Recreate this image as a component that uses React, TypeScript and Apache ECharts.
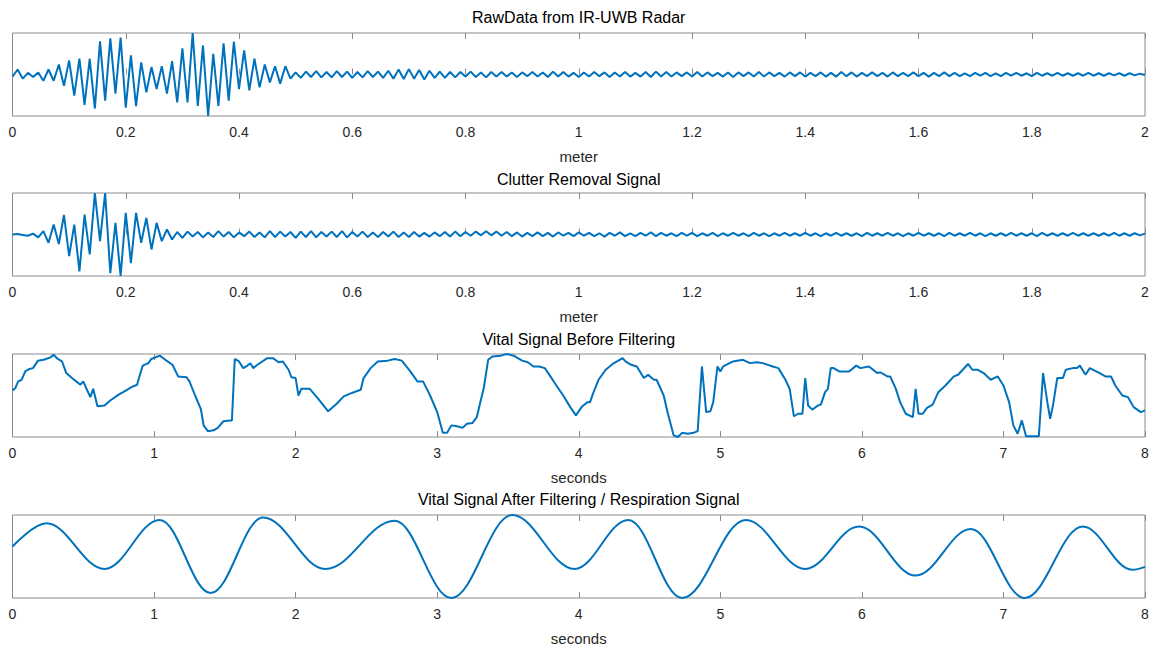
import React, { useEffect, useRef } from "react";
import * as echarts from "echarts";

// ---- Data ----
const RANGE_STEP = 2 / 220; // metres between radar samples

const rawData: number[] = [
  -0.05, 0.12, -0.1, 0.04, -0.06, 0.05, -0.15, 0.12, -0.15, 0.24,
  -0.27, 0.34, -0.51, 0.38, -0.73, 0.38, -0.82, 0.8, -0.63, 0.87,
  -0.46, 0.89, -0.8, 0.46, -0.76, 0.29, -0.43, 0.18, -0.35, 0.2,
  -0.46, 0.32, -0.67, 0.63, -0.67, 1.0, -0.76, 0.7, -1.0, 0.5,
  -0.76, 0.75, -0.63, 0.79, -0.35, 0.58, -0.38, 0.38, -0.31, 0.24,
  -0.19, 0.2, -0.22, 0.2, -0.1, 0.05, -0.08,
  0.07, -0.06, 0.08, -0.07, 0.06, -0.07, 0.08, -0.06, 0.07, -0.08,
  0.06, -0.07, 0.08, -0.06, 0.07, -0.08, 0.09, -0.1, 0.12, -0.11,
  0.13, -0.1, 0.11, -0.12, 0.09, -0.08, 0.07, -0.08, 0.06, -0.07,
  0.06, -0.05, 0.07, -0.06, 0.05, -0.07, 0.06, -0.05, 0.06, -0.05,
  0.05, -0.06, 0.05, -0.04, 0.06, -0.05, 0.05, -0.06, 0.07, -0.05,
  0.06, -0.05, 0.04, -0.06, 0.05, -0.05, 0.06, -0.04, 0.05, -0.06,
  0.05, -0.05, 0.06, -0.05, 0.04, -0.05, 0.06, -0.06, 0.07, -0.05,
  0.06, -0.05, 0.05, -0.04, 0.05, -0.05, 0.06, -0.05, 0.05, -0.04,
  0.04, -0.05, 0.05, -0.06, 0.05, -0.04, 0.05, -0.05, 0.06, -0.05,
  0.05, -0.04, 0.04, -0.05, 0.05, -0.04, 0.05, -0.05, 0.04, -0.04,
  0.05, -0.05, 0.04, -0.05, 0.06, -0.04, 0.05, -0.05, 0.04, -0.04,
  0.05, -0.04, 0.04, -0.05, 0.05, -0.04, 0.04, -0.04, 0.05, -0.04,
  0.04, -0.05, 0.04, -0.04, 0.05, -0.04, 0.04, -0.04, 0.03, -0.04,
  0.04, -0.03, 0.04, -0.04, 0.03, -0.04, 0.04, -0.03, 0.04, -0.03,
  0.03, -0.04, 0.04, -0.03, 0.03, -0.03, 0.04, -0.03, 0.03, -0.03,
  0.03, -0.03, 0.04, -0.03, 0.03, -0.03, 0.03, -0.02, 0.03, -0.03,
  0.03, -0.02, 0.02, -0.01,
];

const clutterRemoved: number[] = [
  0, 0.01, -0.01, -0.03, 0.02, -0.07, 0.08, -0.2, 0.24, -0.23,
  0.47, -0.52, 0.24, -0.89, 0.48, -0.48, 1.0, -0.16, 1.0, -0.93,
  0.28, -1.0, 0.52, -0.69, 0.52, -0.2, 0.4, -0.36, 0.28, -0.16,
  0.12, -0.12,
  0.06, -0.08, 0.07, -0.05, 0.06, -0.07, 0.05, -0.06, 0.08, -0.05,
  0.06, -0.07, 0.05, -0.04, 0.07, -0.06, 0.05, -0.07, 0.08, -0.06,
  0.07, -0.05, 0.06, -0.08, 0.07, -0.06, 0.08, -0.07, 0.06, -0.05,
  0.07, -0.06, 0.08, -0.07, 0.06, -0.05, 0.07, -0.06, 0.05, -0.06,
  0.06, -0.05, 0.07, -0.06, 0.05, -0.06, 0.06, -0.05, 0.04, -0.05,
  0.05, -0.04, 0.06, -0.05, 0.07, -0.04, 0.06, -0.03, 0.07, -0.02,
  0.08, -0.02, 0.07, -0.03, 0.06, -0.04, 0.05, -0.05, 0.04, -0.04,
  0.05, -0.04, 0.04, -0.05, 0.05, -0.03, 0.04, -0.04, 0.05, -0.03,
  0.04, -0.04, 0.03, -0.05, 0.04, -0.03, 0.05, -0.04, 0.03, -0.04,
  0.04, -0.03, 0.05, -0.04, 0.04, -0.03, 0.03, -0.04, 0.04, -0.03,
  0.04, -0.04, 0.03, -0.03, 0.04, -0.04, 0.03, -0.03, 0.04, -0.03,
  0.03, -0.04, 0.04, -0.03, 0.03, -0.04, 0.03, -0.03, 0.04, -0.03,
  0.03, -0.03, 0.04, -0.03, 0.03, -0.04, 0.03, -0.03, 0.04, -0.03,
  0.03, -0.03, 0.03, -0.04, 0.04, -0.03, 0.03, -0.03, 0.04, -0.03,
  0.03, -0.04, 0.03, -0.03, 0.04, -0.03, 0.03, -0.03, 0.03, -0.04,
  0.04, -0.03, 0.03, -0.03, 0.04, -0.03, 0.03, -0.04, 0.03, -0.03,
  0.03, -0.03, 0.04, -0.03, 0.03, -0.03, 0.03, -0.04, 0.04, -0.03,
  0.03, -0.03, 0.03, -0.03, 0.04, -0.03, 0.03, -0.03, 0.03, -0.03,
  0.03, -0.03, 0.04, -0.03, 0.03, -0.03, 0.03, -0.02, 0.02,
];

// [seconds, amplitude]
const vitalBefore: [number, number][] = [
  [0, 0.56], [0.02, 0.59], [0.04, 0.67], [0.065, 0.69], [0.09, 0.79], [0.12, 0.82], [0.145, 0.83],
  [0.18, 0.92], [0.22, 0.93], [0.27, 0.96], [0.29, 0.99], [0.32, 0.94], [0.35, 0.91], [0.38, 0.77],
  [0.42, 0.71], [0.45, 0.67], [0.48, 0.63], [0.5, 0.67], [0.52, 0.59], [0.55, 0.48], [0.57, 0.58],
  [0.6, 0.37], [0.65, 0.38], [0.69, 0.44], [0.75, 0.51], [0.8, 0.56], [0.84, 0.6], [0.88, 0.63],
  [0.9, 0.75], [0.92, 0.86], [0.96, 0.89], [0.98, 0.94], [1.04, 0.98], [1.08, 0.93], [1.13, 0.87],
  [1.17, 0.73], [1.23, 0.72], [1.25, 0.67], [1.29, 0.5], [1.33, 0.34], [1.35, 0.14], [1.38, 0.07],
  [1.42, 0.08], [1.45, 0.11], [1.49, 0.19], [1.54, 0.2], [1.55, 0.2], [1.57, 0.94], [1.6, 0.91],
  [1.63, 0.83], [1.66, 0.86], [1.68, 0.89], [1.7, 0.83], [1.73, 0.87], [1.8, 0.95], [1.84, 0.95],
  [1.88, 0.9], [1.91, 0.91], [1.95, 0.81], [1.97, 0.72], [2.0, 0.71], [2.02, 0.5], [2.04, 0.58],
  [2.07, 0.58], [2.1, 0.58], [2.16, 0.46], [2.23, 0.31], [2.29, 0.4], [2.34, 0.49], [2.38, 0.52],
  [2.46, 0.57], [2.48, 0.71], [2.53, 0.83], [2.58, 0.91], [2.65, 0.92], [2.7, 0.94], [2.75, 0.92],
  [2.81, 0.79], [2.86, 0.67], [2.9, 0.67], [2.95, 0.5], [3.0, 0.3], [3.04, 0.05], [3.07, 0.05],
  [3.1, 0.14], [3.14, 0.13], [3.18, 0.11], [3.21, 0.16], [3.25, 0.17], [3.28, 0.24], [3.33, 0.6],
  [3.36, 0.93], [3.39, 0.97], [3.45, 0.98], [3.49, 1.0], [3.54, 0.98], [3.6, 0.92], [3.64, 0.9],
  [3.68, 0.85], [3.72, 0.85], [3.76, 0.83], [3.8, 0.73], [3.83, 0.65], [3.89, 0.5], [3.94, 0.36],
  [3.98, 0.26], [4.02, 0.36], [4.06, 0.42], [4.08, 0.42], [4.1, 0.52], [4.14, 0.69], [4.19, 0.81],
  [4.24, 0.88], [4.31, 0.95], [4.33, 0.91], [4.37, 0.87], [4.41, 0.85], [4.46, 0.71], [4.49, 0.75],
  [4.53, 0.69], [4.55, 0.69], [4.6, 0.5], [4.63, 0.28], [4.67, 0.02], [4.7, 0], [4.73, 0.05],
  [4.77, 0.04], [4.81, 0.05], [4.84, 0.07], [4.87, 0.85], [4.9, 0.3], [4.93, 0.31], [4.95, 0.42],
  [4.98, 0.85], [5.0, 0.79], [5.02, 0.85], [5.09, 0.91], [5.16, 0.93], [5.21, 0.89], [5.26, 0.9],
  [5.3, 0.89], [5.37, 0.85], [5.41, 0.83], [5.46, 0.69], [5.49, 0.58], [5.52, 0.25], [5.55, 0.28],
  [5.58, 0.28], [5.6, 0.71], [5.62, 0.38], [5.65, 0.33], [5.69, 0.38], [5.71, 0.39], [5.74, 0.54],
  [5.76, 0.58], [5.78, 0.83], [5.8, 0.83], [5.84, 0.79], [5.91, 0.79], [5.96, 0.86], [5.99, 0.83],
  [6.05, 0.85], [6.11, 0.77], [6.13, 0.78], [6.18, 0.73], [6.2, 0.73], [6.24, 0.58], [6.27, 0.42],
  [6.31, 0.28], [6.36, 0.24], [6.38, 0.58], [6.4, 0.28], [6.43, 0.28], [6.46, 0.35], [6.5, 0.39],
  [6.54, 0.54], [6.59, 0.62], [6.65, 0.73], [6.68, 0.75], [6.75, 0.88], [6.78, 0.81], [6.82, 0.81],
  [6.86, 0.77], [6.91, 0.69], [6.96, 0.73], [7.0, 0.62], [7.04, 0.42], [7.07, 0.14], [7.1, 0.04],
  [7.13, 0.2], [7.16, 0.01], [7.25, 0.01], [7.28, 0.77], [7.31, 0.42], [7.33, 0.22], [7.35, 0.38],
  [7.38, 0.71], [7.42, 0.71], [7.44, 0.81], [7.49, 0.83], [7.52, 0.83], [7.54, 0.86], [7.58, 0.75],
  [7.61, 0.83], [7.68, 0.77], [7.72, 0.73], [7.76, 0.73], [7.79, 0.62], [7.84, 0.5], [7.88, 0.48],
  [7.92, 0.36], [7.97, 0.3], [8.0, 0.32],
];

// [seconds, amplitude] — peaks and troughs of the respiration curve
const respiration: [number, number][] = [
  [0, 0.62], [0.24, 0.9], [0.65, 0.35], [1.04, 0.94], [1.4, 0.06], [1.77, 0.97], [2.21, 0.35],
  [2.7, 0.93], [3.1, 0.0], [3.53, 1.0], [3.97, 0.35], [4.35, 0.94], [4.73, 0.0], [5.18, 0.94],
  [5.6, 0.35], [5.98, 0.86], [6.38, 0.27], [6.77, 0.83], [7.15, 0.0], [7.56, 0.86], [7.91, 0.34],
  [8.0, 0.375],
];

const titles = [
  "RawData from IR-UWB Radar",
  "Clutter Removal Signal",
  "Vital Signal Before Filtering",
  "Vital Signal After Filtering / Respiration Signal",
];
const axisNames = ["meter", "meter", "seconds", "seconds"];

// ---- Layout / style ----
const LEFT = 12.5;
const RIGHT = 17;
const GRID_TOPS = [33, 193, 354, 515];
const GRID_H = 83;
const TITLE_TOPS = [9, 171, 331, 491];
const FONT = "'Liberation Sans', Arial, Helvetica, sans-serif";
const LINE_COLOR = "#0072BD";
const BOX_COLOR = "#8a8a8a";
const TEXT_COLOR = "#262626";

export default function App() {
  const ref = useRef<HTMLDivElement>(null);

  useEffect(() => {
    if (!ref.current) return;
    const chart = echarts.init(ref.current, undefined, { renderer: "svg" });

    const xRanges = [
      { min: 0, max: 2, interval: 0.2 },
      { min: 0, max: 2, interval: 0.2 },
      { min: 0, max: 8, interval: 1 },
      { min: 0, max: 8, interval: 1 },
    ];
    const yRanges = [
      { min: -1, max: 1 },
      { min: -1, max: 1 },
      { min: 0, max: 1 },
      { min: 0, max: 1 },
    ];

    const grids = GRID_TOPS.map((top) => ({
      left: LEFT,
      right: RIGHT,
      top,
      height: GRID_H,
      show: true,
      borderColor: BOX_COLOR,
      borderWidth: 1,
      backgroundColor: "transparent",
      containLabel: false,
    }));

    const xAxes: any[] = [];
    xRanges.forEach((r, i) => {
      xAxes.push({
        type: "value",
        gridIndex: i,
        position: "bottom",
        ...r,
        name: axisNames[i],
        nameLocation: "middle",
        nameGap: 33,
        nameTextStyle: { fontFamily: FONT, fontSize: 15, color: TEXT_COLOR },
        axisLine: { show: false },
        axisTick: { show: true, inside: true, length: 6, lineStyle: { color: BOX_COLOR } },
        axisLabel: {
          show: true,
          margin: 9,
          fontFamily: FONT,
          fontSize: 14,
          color: TEXT_COLOR,
          showMinLabel: true,
          showMaxLabel: true,
        },
        splitLine: { show: false },
      });
    });
    xRanges.forEach((r, i) => {
      xAxes.push({
        type: "value",
        gridIndex: i,
        position: "top",
        ...r,
        axisLine: { show: false },
        axisTick: { show: true, inside: true, length: 6, lineStyle: { color: BOX_COLOR } },
        axisLabel: { show: false },
        splitLine: { show: false },
      });
    });

    const yAxes = yRanges.map((r, i) => ({
      type: "value",
      gridIndex: i,
      ...r,
      show: false,
      splitLine: { show: false },
    }));

    const rawPairs = rawData.map((v, i) => [i * RANGE_STEP, v]);
    const clutterPairs = clutterRemoved.map((v, i) => [i * RANGE_STEP, v]);

    const lineBase = {
      type: "line",
      showSymbol: false,
      symbol: "none",
      lineStyle: { color: LINE_COLOR, width: 2 },
      clip: true,
      silent: true,
    };

    chart.setOption({
      animation: false,
      backgroundColor: "#ffffff",
      title: titles.map((t, i) => ({
        text: t,
        left: LEFT + (1162 - LEFT - RIGHT) / 2,
        textAlign: "center",
        top: TITLE_TOPS[i],
        padding: 0,
        textStyle: { fontFamily: FONT, fontSize: 16, fontWeight: "normal", color: "#000000" },
      })),
      grid: grids,
      xAxis: xAxes,
      yAxis: yAxes,
      series: [
        { ...lineBase, xAxisIndex: 0, yAxisIndex: 0, data: rawPairs },
        { ...lineBase, xAxisIndex: 1, yAxisIndex: 1, data: clutterPairs },
        { ...lineBase, xAxisIndex: 2, yAxisIndex: 2, data: vitalBefore },
        {
          ...lineBase,
          xAxisIndex: 3,
          yAxisIndex: 3,
          data: respiration,
          smooth: 0.37,
          smoothMonotone: "x",
        },
      ],
    });

    return () => chart.dispose();
  }, []);

  return (
    <div
      ref={ref}
      style={{ position: "fixed", left: 0, top: 0, width: 1162, height: 648, background: "#fff" }}
    />
  );
}
